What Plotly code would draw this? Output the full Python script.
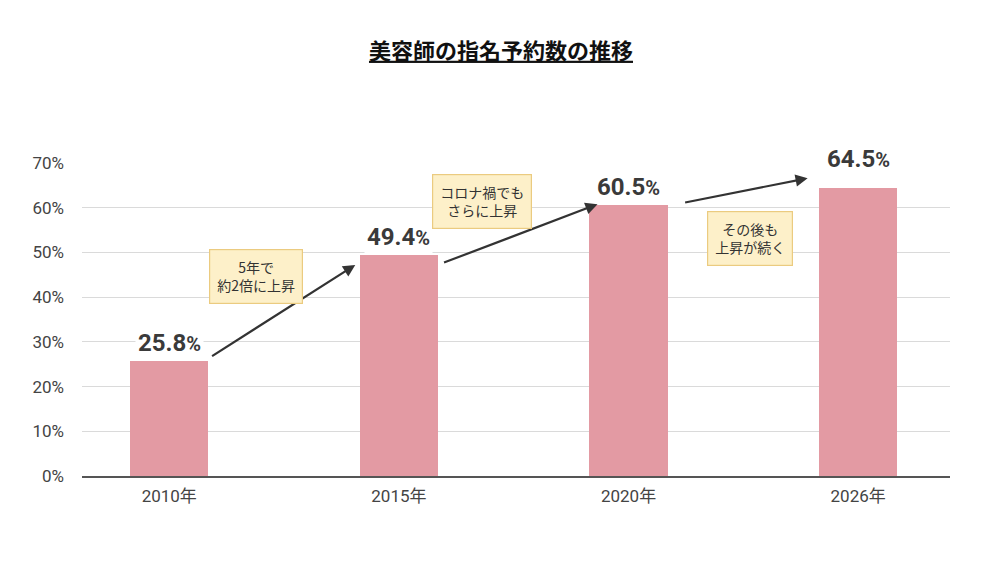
import plotly.graph_objects as go

# data
years = ["2010年", "2015年", "2020年", "2026年"]
rates = [25.8, 49.4, 60.5, 64.5]
y_ticks = [0, 10, 20, 30, 40, 50, 60, 70]
notes = ["5年で<br>約2倍に上昇", "コロナ禍でも<br>さらに上昇", "その後も<br>上昇が続く"]

FONT = "Roboto, Noto Sans CJK JP"
BAR = "#E39AA3"

fig = go.Figure()
fig.add_trace(go.Bar(
    x=list(range(len(years))), y=rates, width=0.34,
    marker=dict(color=BAR, line=dict(width=0)),
    hoverinfo="skip",
))

# value labels over the bars
for i, v in enumerate(rates):
    fig.add_annotation(
        x=i, y=v, yanchor="bottom", yshift=1 if i < 3 else 12,
        text=f"<b>{v:.1f}<span style='font-size:20px'>%</span></b>",
        showarrow=False, bgcolor="white", borderpad=2,
        font=dict(family=FONT, size=24, color="#3a3a3a"),
    )

# trend arrows between the bars
arrows = [((0.18, 26.6), (0.81, 47.2)),
          ((1.19, 47.6), (1.865, 60.8)),
          ((2.24, 61.1), (2.78, 66.6))]
for (x0, y0), (x1, y1) in arrows:
    fig.add_annotation(
        x=x1, y=y1, ax=x0, ay=y0, xref="x", yref="y", axref="x", ayref="y",
        text="", showarrow=True, arrowhead=2, arrowsize=1.1, arrowwidth=2.2,
        arrowcolor="#333333",
    )

# callout notes
note_pos = [(0.378, 44.7), (1.36, 61.5), (2.531, 53.2)]
for (x, y), t in zip(note_pos, notes):
    fig.add_annotation(
        x=x, y=y, text=t, showarrow=False,
        bgcolor="#FDF0C9", bordercolor="#EBCB80", borderwidth=1.2, borderpad=7,
        font=dict(family="Noto Sans CJK JP", size=14, color="#333333"),
    )

fig.update_layout(
    width=986, height=574,
    margin=dict(l=74, r=44, t=155, b=106),
    paper_bgcolor="white", plot_bgcolor="white",
    showlegend=False,
    bargap=0,
    title=dict(
        text="<b><u>美容師の指名予約数の推移</u></b>",
        x=0.5, xanchor="center", y=0.925, yanchor="middle",
        font=dict(family="Noto Sans CJK JP", size=22, color="#111111"),
    ),
    font=dict(family=FONT),
)
fig.update_xaxes(
    tickmode="array", tickvals=list(range(len(years))), ticktext=years,
    range=[-0.38, 3.40], showgrid=False, zeroline=False,
    showline=True, linecolor="#555555", linewidth=1.5,
    ticks="", ticklabelstandoff=4,
    tickfont=dict(family=FONT, size=17, color="#444444"),
)
fig.update_yaxes(
    range=[0, 70], tickvals=y_ticks, ticktext=[f"{t}%" for t in y_ticks],
    showgrid=True, gridcolor="#DADADA", gridwidth=1, zeroline=False,
    showline=False, ticks="", ticklabelstandoff=17,
    tickfont=dict(family=FONT, size=17, color="#444444"),
)

fig.write_html("out.html")
